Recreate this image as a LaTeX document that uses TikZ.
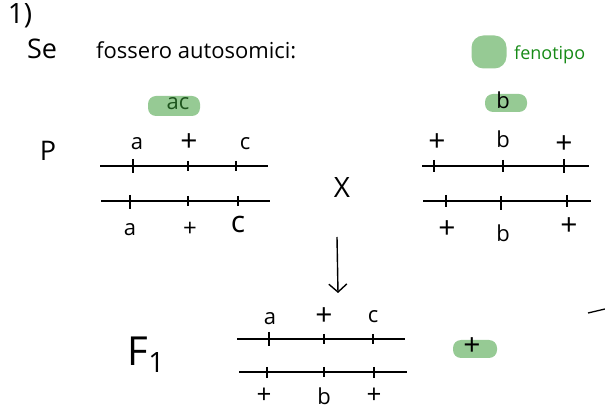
\documentclass[tikz,border=0pt]{standalone}
\usepackage{fontspec}
\setmainfont{Open Sans}
\usepackage{tikz}
\usetikzlibrary{arrows.meta}
\definecolor{hlgreen}{RGB}{150,202,148}
\definecolor{pengreen}{RGB}{22,138,22}
\definecolor{inkgreen}{RGB}{30,85,30}

\begin{document}
\begin{tikzpicture}[x=1pt,y=-1pt,
  chrom/.style={line width=1.3pt},
  gtick/.style={line width=1.3pt},
  allele/.style={font=\fontsize{22}{22}\selectfont\fontseries{l}\selectfont,inner sep=0pt},
  pluslbl/.style={allele,font=\fontsize{30}{30}\selectfont\fontseries{l}\selectfont},
  hilite/.style={fill=hlgreen,rounded corners=8pt,inner sep=0pt},
  hand/.style={font=\fontsize{22}{22}\selectfont,inner sep=0pt},
]
\useasboundingbox (0,0) rectangle (605,411);
\def\yPa{166}\def\yPb{201}\def\yFa{339}\def\yFb{372}
% heading
\node[font=\fontsize{28}{28}\selectfont,inner sep=0pt] (num) at (20,16) {1)};
\node[hand,font=\fontsize{27}{27}\selectfont] (se) at (42,49) {Se};
\node[hand,anchor=west] (title) at (96,50) {fossero autosomici:};
% legend
\node[hilite,rounded corners=12pt,minimum width=35pt,minimum height=33pt] (blob) at (489,52) {};
\node[hand,text=pengreen,anchor=west,font=\fontsize{18}{18}\selectfont] (feno) at (514,55) {fenotipo};
% phenotypes of the parents
\node[hilite,minimum width=52pt,minimum height=20pt] (hlac) at (174,106) {};
\node[allele,text=inkgreen] (pac) at (178,104) {ac};
\node[hilite,minimum width=42pt,minimum height=18pt] (hlb) at (506,103) {};
\node[allele] (pb) at (503,100) {b};
% P
\node[font=\fontsize{27}{27}\selectfont,inner sep=0pt] (gp) at (48,151) {P};
\coordinate (la1) at (100,\yPa); \coordinate (la2) at (268,\yPa);
\coordinate (lb1) at (101,\yPb); \coordinate (lb2) at (270,\yPb);
\draw[chrom] (la1) -- (la2);
\draw[chrom] (lb1) -- (lb2);
\draw[gtick] (133,\yPa-7) -- (133,\yPa+7);
\draw[gtick] (188,\yPa-5) -- (188,\yPa+5);
\draw[gtick] (236,\yPa-5) -- (236,\yPa+5);
\draw[gtick] (130,\yPb-6) -- (130,\yPb+8);
\draw[gtick] (188,\yPb-5) -- (188,\yPb+5);
\draw[gtick] (238,\yPb-5) -- (238,\yPb+5);
\node[allele] (la) at (137,144) {a};
\node[pluslbl] (lp) at (189,143) {+};
\node[allele] (lc) at (245,144) {c};
\node[allele] (lba) at (130,230) {a};
\node[allele,font=\fontsize{24}{24}\selectfont\fontseries{l}\selectfont] (lbp) at (190,229) {+};
\node[allele,font=\fontsize{30}{30}\selectfont\fontseries{l}\selectfont] (lbc) at (238,224) {c};
% cross
\node[font=\fontsize{28}{28}\selectfont\fontseries{l}\selectfont,inner sep=0pt] (cross) at (342,188) {X};
\coordinate (ra1) at (422,\yPa); \coordinate (ra2) at (589,\yPa);
\coordinate (rb1) at (423,\yPb); \coordinate (rb2) at (591,\yPb);
\draw[chrom] (ra1) -- (ra2);
\draw[chrom] (rb1) -- (rb2);
\draw[gtick] (434,\yPa-6) -- (434,\yPa+6);
\draw[gtick] (503,\yPa-6) -- (503,\yPa+6);
\draw[gtick] (564,\yPa-7) -- (564,\yPa+7);
\draw[gtick] (446,\yPb-6) -- (446,\yPb+6);
\draw[gtick] (501,\yPb-5) -- (501,\yPb+9);
\draw[gtick] (567,\yPb-6) -- (567,\yPb+6);
\node[pluslbl] (ra) at (437,143) {+};
\node[allele] (rb) at (503,139) {b};
\node[pluslbl] (rc) at (564,145) {+};
\node[pluslbl] (rba) at (447,230) {+};
\node[allele] (rbb) at (503,233) {b};
\node[pluslbl] (rbc) at (569,227) {+};
% arrow to F1
\coordinate (arA) at (337,237); \coordinate (arB) at (338,293);
\draw[line width=1.4pt,-{Straight Barb[length=8pt,width=18pt]}] (arA) -- (arB);
% F1
\node[font=\fontsize{40}{40}\selectfont\fontseries{l}\selectfont,inner sep=0pt] (gf) at (146,355)
  {F{\fontsize{28}{28}\selectfont\raisebox{-7pt}{1}}};
\coordinate (fa1) at (237,\yFa); \coordinate (fa2) at (405,\yFa);
\coordinate (fb1) at (239,\yFb); \coordinate (fb2) at (407,\yFb);
\draw[chrom] (fa1) -- (fa2);
\draw[chrom] (fb1) -- (fb2);
\draw[gtick] (269,\yFa-7) -- (269,\yFa+7);
\draw[gtick] (324,\yFa-5) -- (324,\yFa+5);
\draw[gtick] (373,\yFa-5) -- (373,\yFa+5);
\draw[gtick] (267,\yFb-5) -- (267,\yFb+6);
\draw[gtick] (324,\yFb-5) -- (324,\yFb+5);
\draw[gtick] (374,\yFb-5) -- (374,\yFb+6);
\node[allele] (fa) at (270,319) {a};
\node[pluslbl] (fp) at (324,317) {+};
\node[allele] (fc) at (373,317) {c};
\node[allele,font=\fontsize{26}{26}\selectfont\fontseries{l}\selectfont] (fba) at (264,396) {+};
\node[allele] (fbb) at (324,396) {b};
\node[allele,font=\fontsize{26}{26}\selectfont\fontseries{l}\selectfont] (fbc) at (374,396) {+};
% F1 phenotype
\node[hilite,minimum width=44pt,minimum height=18pt] (hlf) at (475,349) {};
\node[pluslbl] (fplus) at (472,347) {+};
% stray stroke
\coordinate (st1) at (588,313); \coordinate (st2) at (605,309);
\draw[line width=1.3pt] (st1) -- (st2);
\end{tikzpicture}
\end{document}
